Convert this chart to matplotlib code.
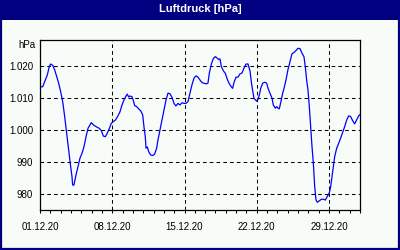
#!/usr/bin/env python3
# Luftdruck im Dezember 2020 (hPa)

from datetime import datetime, timedelta

import matplotlib
matplotlib.use("Agg")
from matplotlib import pyplot as plt
from matplotlib import dates as mdates
from matplotlib.patches import Rectangle
from matplotlib.ticker import FixedLocator, FuncFormatter

plt.rcParams["font.family"] = ["Liberation Sans", "DejaVu Sans"]

title = "Luftdruck [hPa]"
unit = "hPa"
start = datetime(2020, 12, 1)

# days since 01.12.20 00:00 and pressure in hPa
days = [
    0.00, 0.26, 0.45, 0.71, 0.90, 1.03, 1.23, 1.42, 1.61, 1.81,
    2.00, 2.20, 2.39, 2.58, 2.78, 2.97, 3.10, 3.16, 3.29, 3.49,
    3.68, 3.87, 4.07, 4.26, 4.46, 4.65, 4.84, 4.97, 5.17, 5.36,
    5.55, 5.75, 5.94, 6.14, 6.33, 6.52, 6.72, 6.91, 7.10, 7.30,
    7.49, 7.75, 7.94, 8.14, 8.33, 8.46, 8.59, 8.72, 8.91, 9.04,
    9.17, 9.36, 9.56, 9.75, 9.95, 10.07, 10.20, 10.27, 10.40, 10.53,
    10.72, 10.91, 11.11, 11.30, 11.43, 11.62, 11.82, 12.01, 12.21, 12.40,
    12.59, 12.79, 12.98, 13.17, 13.37, 13.56, 13.76, 13.95, 14.14, 14.34,
    14.53, 14.72, 14.92, 15.11, 15.31, 15.50, 15.69, 15.89, 16.08, 16.27,
    16.40, 16.60, 16.79, 16.98, 17.18, 17.31, 17.44, 17.57, 17.76, 17.95,
    18.15, 18.34, 18.53, 18.66, 18.79, 18.99, 19.18, 19.37, 19.57, 19.76,
    19.96, 20.15, 20.34, 20.47, 20.60, 20.73, 20.86, 20.99, 21.12, 21.25,
    21.38, 21.57, 21.76, 21.96, 22.09, 22.28, 22.48, 22.60, 22.80, 22.93,
    23.06, 23.18, 23.38, 23.51, 23.64, 23.83, 24.02, 24.22, 24.41, 24.61,
    24.80, 24.99, 25.19, 25.38, 25.57, 25.70, 25.83, 25.96, 26.09, 26.22,
    26.35, 26.48, 26.61, 26.74, 26.87, 27.06, 27.25, 27.45, 27.64, 27.83,
    28.03, 28.16, 28.29, 28.42, 28.55, 28.74, 28.93, 29.12, 29.32, 29.51,
    29.71, 29.90, 30.09, 30.29, 30.48, 30.67, 30.87, 31.00,
]
hpa = [
    1013.5, 1013.5, 1015.1, 1017.2, 1019.8, 1020.6, 1020.2, 1018.8, 1016.7, 1014.6,
    1012.0, 1008.8, 1004.2, 999.0, 993.8, 988.5, 985.4, 982.8, 982.8, 986.0,
    988.5, 991.2, 992.7, 994.8, 997.9, 1000.5, 1001.6, 1002.3, 1001.6, 1001.2,
    1000.8, 1000.5, 999.8, 998.1, 997.9, 999.0, 1000.5, 1002.1, 1002.6, 1003.1,
    1004.0, 1005.7, 1007.8, 1009.4, 1010.6, 1011.2, 1010.3, 1010.6, 1010.4, 1009.2,
    1007.6, 1007.3, 1006.6, 1006.0, 1004.7, 1001.0, 997.9, 994.3, 994.7, 993.2,
    992.2, 992.0, 992.5, 994.3, 996.9, 1000.0, 1003.1, 1006.2, 1009.4, 1011.5,
    1011.3, 1010.2, 1008.3, 1007.5, 1008.3, 1007.8, 1008.5, 1008.3, 1008.3, 1008.9,
    1011.5, 1014.1, 1016.2, 1016.9, 1016.5, 1015.6, 1014.8, 1014.6, 1014.4, 1014.6,
    1017.7, 1020.6, 1022.3, 1022.9, 1022.4, 1022.0, 1022.2, 1019.8, 1018.5, 1017.7,
    1015.8, 1014.4, 1013.5, 1013.0, 1014.8, 1016.5, 1016.5, 1017.5, 1017.8, 1019.3,
    1020.6, 1020.6, 1018.5, 1015.1, 1012.3, 1009.9, 1009.4, 1009.0, 1009.6, 1010.9,
    1013.0, 1014.6, 1014.9, 1014.6, 1013.0, 1011.5, 1009.9, 1007.8, 1006.8, 1007.3,
    1006.8, 1006.6, 1009.4, 1011.5, 1013.0, 1015.6, 1018.8, 1021.3, 1023.8, 1024.2,
    1024.8, 1025.5, 1025.4, 1024.0, 1022.9, 1019.8, 1015.6, 1012.5, 1007.3, 1001.0,
    994.8, 989.6, 982.3, 978.1, 977.4, 977.9, 978.3, 978.4, 978.1, 979.2,
    980.4, 982.3, 985.4, 988.5, 991.7, 994.3, 995.8, 997.4, 999.2, 1001.0,
    1003.1, 1004.4, 1004.2, 1002.9, 1001.9, 1003.1, 1004.4, 1004.8,
]
y_ticks = [980, 990, 1000, 1010, 1020]

navy = "#000080"
bg = "#f8fcf8"

times = [start + timedelta(days=d) for d in days]

fig = plt.figure(figsize=(4, 2.5), dpi=100, facecolor=bg)
ax = fig.add_axes([0.1, 0.16, 0.8, 0.68], facecolor=bg)

ax.plot(times, hpa, color="#0000ff", linewidth=0.9)

ax.set_xlim(start, start + timedelta(days=31))
ax.set_ylim(975, 1028.1)

# 01.12.20 is a Tuesday -> weekly ticks on Tuesdays
ax.xaxis.set_major_locator(mdates.WeekdayLocator(byweekday=mdates.TU))
ax.xaxis.set_minor_locator(mdates.DayLocator())
ax.xaxis.set_major_formatter(mdates.DateFormatter("%d.%m.%y"))
ax.yaxis.set_major_locator(FixedLocator(y_ticks))
ax.yaxis.set_major_formatter(FuncFormatter(lambda v, p: f"{v:,.0f}".replace(",", ".")))

ax.tick_params(axis="x", which="both", direction="out", length=2.5, width=0.75,
               color="black", labelsize=7, pad=6)
ax.tick_params(axis="y", length=0, labelsize=7, pad=5)

ax.grid(True, which="major", color="black", linewidth=0.75, linestyle=(0, (3.5, 3)))
for s in ax.spines.values():
    s.set_linewidth(0.9)
    s.set_color("black")

ax.text(-0.015, 0.97, unit, transform=ax.transAxes, ha="right", va="center", fontsize=7)

# title bar and frame
fig.add_artist(Rectangle((0, 0.92), 1, 0.08, transform=fig.transFigure,
                         facecolor=navy, edgecolor="none"))
fig.add_artist(Rectangle((0.002, 0.003), 0.995, 0.994, transform=fig.transFigure,
                         facecolor="none", edgecolor=navy, linewidth=1.6))
fig.text(0.5, 0.963, title, color="white", fontsize=8, fontweight="bold",
         ha="center", va="center")

fig.savefig("out.png", dpi=100, facecolor=bg)
